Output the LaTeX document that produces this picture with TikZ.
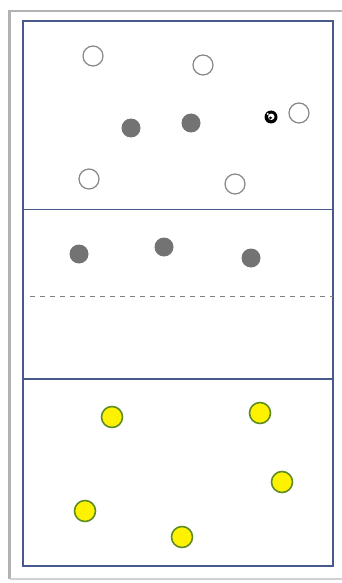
\documentclass[tikz,border=0pt]{standalone}
\usepackage{tikz}
\usetikzlibrary{calc}

\definecolor{courtline}{RGB}{72,90,140}
\definecolor{framegray}{RGB}{178,178,178}
\definecolor{playergray}{RGB}{115,115,115}
\definecolor{ringgray}{RGB}{135,135,135}
\definecolor{padgreen}{RGB}{95,140,35}

\tikzset{
  openplayer/.style={circle, draw=ringgray, fill=white, line width=1.2pt, minimum size=20pt, inner sep=0pt},
  grayplayer/.style={circle, fill=playergray, minimum size=19pt, inner sep=0pt},
  yellowplayer/.style={circle, draw=padgreen, fill=yellow, line width=1.6pt, minimum size=21pt, inner sep=0pt},
  courtedge/.style={draw=courtline, line width=1.8pt}
}

\begin{document}
\begin{tikzpicture}[x=1pt, y=-1pt]
  \useasboundingbox (0,0) rectangle (342,583);

  % Window frame round the court
  \draw[framegray, line width=2.5pt] (9.5,579) -- (9.5,11) -- (342,11);
  \draw[framegray!60, line width=1.5pt] (9.5,579) -- (342,579);

  % Court outline and zone lines
  \draw[courtedge] (23,21) rectangle (333,566);
  \draw[courtedge] (23,209.5) -- (333,209.5);
  \draw[courtedge] (23,379) -- (333,379);
  \draw[gray, line width=1pt, dash pattern=on 4.5pt off 5.5pt] (30,296.5) -- (333,296.5);

  % Attacking team (open circles)
  \node[openplayer] (o1) at (93,56) {};
  \node[openplayer] (o2) at (203,65) {};
  \node[openplayer] (o3) at (299,113) {};
  \node[openplayer] (o4) at (89,179) {};
  \node[openplayer] (o5) at (235,184) {};

  % Defenders (gray dots)
  \node[grayplayer] (g1) at (131,128) {};
  \node[grayplayer] (g2) at (191,123) {};
  \node[grayplayer] (g3) at (79,254) {};
  \node[grayplayer] (g4) at (164,247) {};
  \node[grayplayer] (g5) at (251,258) {};

  % Ball beside the open player
  \node[circle, fill=black, minimum size=13pt, inner sep=0pt] (ball) at (271,117) {};
  \fill[white] ($(ball)+(0.3,-0.2)$) circle (3.2pt);
  \fill[black] ($(ball)+(-0.6,0.9)$) circle (1.5pt);
  \fill[white] ($(ball)+(-3.2,-3.0)$) circle (1.1pt);

  % Other team (yellow)
  \node[yellowplayer] (y1) at (112,417) {};
  \node[yellowplayer] (y2) at (260,413) {};
  \node[yellowplayer] (y3) at (282,482) {};
  \node[yellowplayer] (y4) at (85,511) {};
  \node[yellowplayer] (y5) at (182,537) {};

\end{tikzpicture}
\end{document}
